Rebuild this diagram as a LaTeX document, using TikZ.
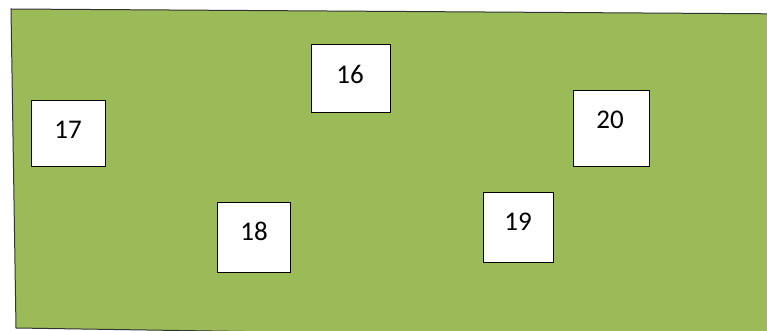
\documentclass[tikz,border=0pt]{standalone}
\usepackage{fontspec}
\setmainfont{Carlito}
\definecolor{fieldgreen}{HTML}{9BBB59}
\begin{document}
\begin{tikzpicture}[x=1pt,y=-1pt,
  box/.style={draw=black, line width=0.8pt, fill=white, minimum width=#1, inner sep=0pt},
  box/.default=74pt,
  lbl/.style={inner sep=0pt, text depth=0pt, font=\fontsize{27}{30}\selectfont}]
\useasboundingbox (0,0) rectangle (767,331);
\begin{scope}
\clip (0,0) rectangle (767,331);
\draw[fill=fieldgreen, draw=black!80, line width=1pt] (11,9) -- (800,14) -- (800,340) -- (16,328) -- cycle;
\end{scope}
\node[box=79pt, minimum height=68pt] (b16) at (350.5,78) {};
\node[box=74pt, minimum height=66pt] (b17) at (68,133) {};
\node[box=73pt, minimum height=70pt] (b18) at (253.5,237) {};
\node[box=70pt, minimum height=70pt] (b19) at (518,227) {};
\node[box=76pt, minimum height=76pt] (b20) at (611,128) {};
\node[lbl] (t16) at (350,74) {16};
\node[lbl] (t17) at (68,130) {17};
\node[lbl] (t18) at (254,231.5) {18};
\node[lbl] (t19) at (518,222) {19};
\node[lbl] (t20) at (610,119.5) {20};
\end{tikzpicture}
\end{document}
